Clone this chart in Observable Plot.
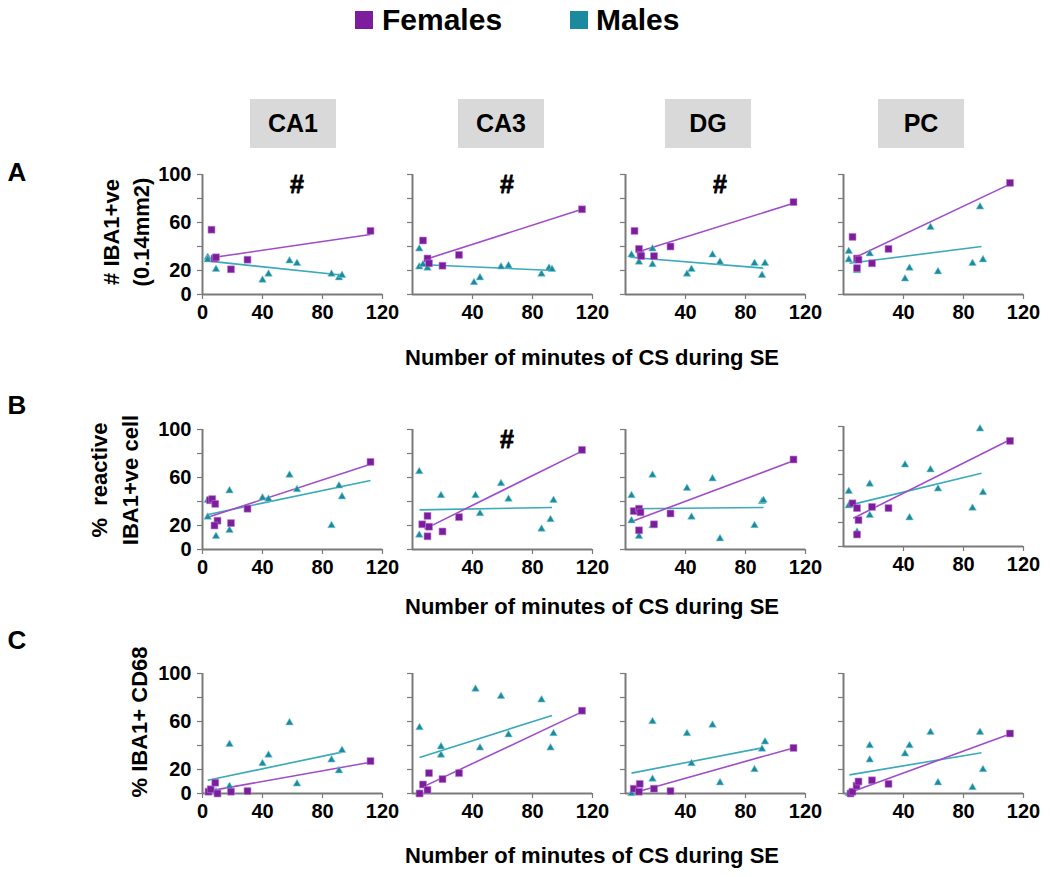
<!DOCTYPE html>
<html><head><meta charset="utf-8">
<script src="https://cdn.jsdelivr.net/npm/d3@7"></script>
<script src="https://cdn.jsdelivr.net/npm/@observablehq/plot@0.6"></script>
<style>
body{margin:0;background:#fff;font-family:"Liberation Sans",Arial,sans-serif;font-weight:bold;color:#000;}
#wrap{position:relative;width:1050px;height:877px;overflow:hidden;background:#fff;}
.abs{position:absolute;white-space:pre;line-height:1;}
.ctr{transform:translate(-50%,-50%);}
.rot{transform:translate(-50%,-50%) rotate(-90deg);}
.hdr{position:absolute;background:#d9d9d9;display:flex;align-items:center;justify-content:center;font-size:25px;}
</style></head><body><div id="wrap"></div>
<script>
// ---------- data ----------
const regions = ["CA1", "CA3", "DG", "PC"];
const rowLetters = ["A", "B", "C"];
const rowTitles = [["# IBA1+ve", "(0.14mm2)"], ["%  reactive", "IBA1+ve cell"], ["% IBA1+ CD68"]];
const xTitle = "Number of minutes of CS during SE";
const sexes = ["Females", "Males"];
const xTicks = [0, 40, 80, 120];
const yTicks = [0, 20, 40, 60, 80, 100];
const yLabels = [0, 20, 60, 100];
const sigMark = [[true, true, true, false], [false, true, false, false], [false, false, false, false]];

// Row A: # IBA1+ve (0.14mm2)
const femalesA = [
  [[6,54],[8,30],[9,31],[19,21],[30,29],[112,53]],
  [[7,45],[10,30],[11,26],[20,24],[31,33],[113,71]],
  [[6,53],[9,38],[10,33],[10.5,32],[19,32],[30,40],[112,77]],
  [[6,48],[9,30],[10,29],[9,22],[19,26],[30,38],[111,93]]
];
const malesA = [
  [[3.5,31],[3.5,29],[9,21],[40,12],[44,17],[58,28],[63,26],[86,17],[91,14],[93,16]],
  [[4.5,38],[4.5,23],[7,25],[10,22],[41,10],[45,14],[59,23],[64,24],[86,17],[91,22],[93,21]],
  [[4,33],[9,27],[18,38],[18,25],[41,17],[44,21],[58,33],[63,27],[86,26],[91,16],[93,26]],
  [[3.5,36],[3.5,29],[9,20],[17.5,34],[41,13],[44,22],[58,56],[63,19],[86,26],[91,73],[93,29]]
];
const trendFemalesA = [[8,31,112,50],[8,29,113,71],[7,35,112,76],[8,31,111,92]];
const trendMalesA = [[2.7,28,94,16],[4.7,25,94,20],[3,31,92,22],[4,26,92,40]];

// Row B: % reactive IBA1+ve cell
const femalesB = [
  [[5,41],[6.5,42],[8.5,38],[10,24],[8,20],[19,22],[30,34],[112,73]],
  [[6.5,21],[10,28],[11,19],[10,11],[20,15],[31,27],[113,83]],
  [[5.5,32],[9,34],[10,31],[9,16],[19,21],[30,30],[112,75]],
  [[6,36],[9,32],[10,22],[9,10],[19,33],[30,32],[111,88]]
];
const malesB = [
  [[3.5,41],[3.5,27],[9,11],[18,49],[18,16],[40,43],[44,42],[58,62],[63,50],[86,20],[91,53],[93,44]],
  [[4.5,65],[4.5,12],[19,45],[42,45],[45,30],[59,55],[64,42],[86,17],[92,25],[94,41]],
  [[4,45],[4,24],[9,11],[18,62],[18,20],[41,51],[44,27],[58,59],[63,9],[86,20],[91,40],[92,41]],
  [[3.5,46],[3.5,34],[9,12],[17.5,52],[17.5,26],[41,68],[44,24],[58,64],[63,48],[86,32],[91,98],[93,45]]
];
const trendFemalesB = [[4,27,112,71],[8,17,113,82],[5.5,24,112,74],[6.5,23.5,111,89]];
const trendMalesB = [[3,29,112,57.5],[4.7,33,93,35],[4,34,92,35],[4,34.5,92,61]];

// Row C: % IBA1+ CD68
const femalesC = [
  [[4,1.5],[5.5,3.5],[8.5,9],[10,0],[19,1.5],[30,2],[112,27]],
  [[4.7,0],[7,7.5],[10,3],[11,17],[20,12],[31,17],[113,69]],
  [[5.5,4],[9.5,8],[9,1.5],[19,4],[30,2],[112,38]],
  [[4.7,0],[6,1.5],[8.7,6.5],[10,10],[19,11],[30,8],[111,50]]
];
const malesC = [
  [[3.5,1.5],[9,1.5],[18,41],[18,6],[40,25],[44,32],[58,59],[63,8],[86,28],[91,19],[93,36]],
  [[4.7,55],[4.7,0],[19,39],[19,32],[42,87],[45,38],[59,81],[64,49],[86,78],[92,38],[94,50]],
  [[4,0],[18,60],[18,12],[41,50],[44,25],[58,57],[63,9],[86,20],[91,37],[93,43]],
  [[3.5,0],[17.5,40],[17.5,28],[41,33],[44,40],[58,51],[63,9],[86,5],[91,51],[93,20]]
];
const trendFemalesC = [[4,2,112,26],[7,5.5,113,68],[8,1.5,112,38],[7,2,111,49.5]];
const trendMalesC = [[3.5,11,93,34.5],[4.7,30,93,65],[4,17,91,38],[4,15.5,92,34]];

const femalesRows = [femalesA, femalesB, femalesC];
const malesRows = [malesA, malesB, malesC];
const trendF = [trendFemalesA, trendFemalesB, trendFemalesC];
const trendM = [trendMalesA, trendMalesB, trendMalesC];

// ---------- styling / layout ----------
const colF = "#7b1d9c", lineF = "#a04cc6";
const colM = "#1b8a9e", lineM = "#3aa9b9";
const axisCol = "#7a7a7a";
const font = '"Liberation Sans", Arial, sans-serif';
const colX0 = [202, 412, 625, 843];
const rowYb = [294, 549, 793];
const yShift = [[0,0,0,0],[0,0,0,-3],[0,0,0,0]];
const pw = 180, ph = 120, mt = 16, mb = 36, mr = 22;

const wrap = document.getElementById("wrap");
function addDiv(html, cls, css) {
  const d = document.createElement("div");
  d.className = cls; d.textContent = html;
  Object.assign(d.style, css);
  wrap.appendChild(d); return d;
}

// legend
[[sexes[0], colF, 355, 382], [sexes[1], colM, 570, 596]].forEach(([t, c, sx, tx]) => {
  const s = document.createElement("div");
  Object.assign(s.style, {position:"absolute", left:sx+"px", top:"11px", width:"18px", height:"18px", background:c});
  wrap.appendChild(s);
  addDiv(t, "abs", {left: tx+"px", top: "5px", fontSize: "30px"});
});

// column headers
const hdrLeft = [250, 458, 665, 878];
regions.forEach((r, i) => {
  const d = document.createElement("div");
  d.className = "hdr"; d.textContent = r;
  Object.assign(d.style, {left: hdrLeft[i]+"px", top: "99px", width: "86px", height: "49px"});
  wrap.appendChild(d);
});

// row letters
const letterY = [172, 405, 640];
rowLetters.forEach((l, i) => addDiv(l, "abs ctr", {left: "17px", top: letterY[i]+"px", fontSize: "26px"}));

// y titles
const yTitlePos = [[[112,232],[142,232]], [[100,480],[131,480]], [[140,722]]];
rowTitles.forEach((lines, r) => lines.forEach((t, k) => {
  const [x, y] = yTitlePos[r][k];
  addDiv(t, "abs rot", {left: x+"px", top: y+"px", fontSize: "22px"});
}));

// x titles
const xTitleY = [358, 607, 856];
xTitleY.forEach(y => addDiv(xTitle, "abs ctr", {left: "592px", top: y+"px", fontSize: "22px"}));

// panels
for (let r = 0; r < 3; r++) {
  for (let c = 0; c < 4; c++) {
    const ml = c === 0 ? 60 : 22;
    const yb = rowYb[r] + yShift[r][c];
    const left = colX0[c] - ml;
    const top = yb - ph - mt;
    const fem = femalesRows[r][c].map(([x, y]) => ({x, y}));
    const mal = malesRows[r][c].map(([x, y]) => ({x, y}));
    const tf = trendF[r][c], tm = trendM[r][c];
    const trends = [
      {x1: tm[0], y1: tm[1], x2: tm[2], y2: tm[3], s: "M"},
      {x1: tf[0], y1: tf[1], x2: tf[2], y2: tf[3], s: "F"}
    ];
    const marks = [
      Plot.axisY({ticks: yTicks, tickSize: 5, tickPadding: 6, stroke: axisCol, strokeWidth: 1.2,
        tickFormat: d => (c === 0 && yLabels.includes(d)) ? String(d) : ""}),
      Plot.axisX({ticks: c === 0 ? xTicks : xTicks.slice(1), tickSize: 5, tickPadding: 5, stroke: axisCol, strokeWidth: 1.2,
        tickFormat: d => String(d)}),
      Plot.ruleX([0], {y1: 0, y2: 100, stroke: axisCol, strokeWidth: 2}),
      Plot.ruleY([0], {x1: 0, x2: 120, stroke: axisCol, strokeWidth: 2}),
      Plot.link(trends, {x1: "x1", y1: "y1", x2: "x2", y2: "y2", stroke: d => d.s === "F" ? lineF : lineM, strokeWidth: 1.6}),
      Plot.dot(mal, {x: "x", y: "y", symbol: "triangle", r: 2.8, fill: colM, stroke: "#7cc9d4", strokeWidth: 0.6}),
      Plot.dot(fem, {x: "x", y: "y", symbol: "square", r: 3.9, fill: colF, stroke: "#b77ad0", strokeWidth: 0.6})
    ];
    if (sigMark[r][c]) marks.push(Plot.text(["#"], {x: 63, y: 91, text: d => d, fontSize: 25, fontWeight: "bold", fill: "#000", stroke: "#000", strokeWidth: 0.8}));
    const svg = Plot.plot({
      width: ml + pw + mr, height: mt + ph + mb,
      marginLeft: ml, marginRight: mr, marginTop: mt, marginBottom: mb,
      x: {domain: [0, 120]}, y: {domain: [0, 100]},
      style: {background: "transparent", overflow: "visible", fontFamily: font, fontSize: "20px", fontWeight: "bold", color: "#000"},
      marks
    });
    Object.assign(svg.style, {position: "absolute", left: left + "px", top: top + "px"});
    wrap.appendChild(svg);
  }
}
</script></body></html>
